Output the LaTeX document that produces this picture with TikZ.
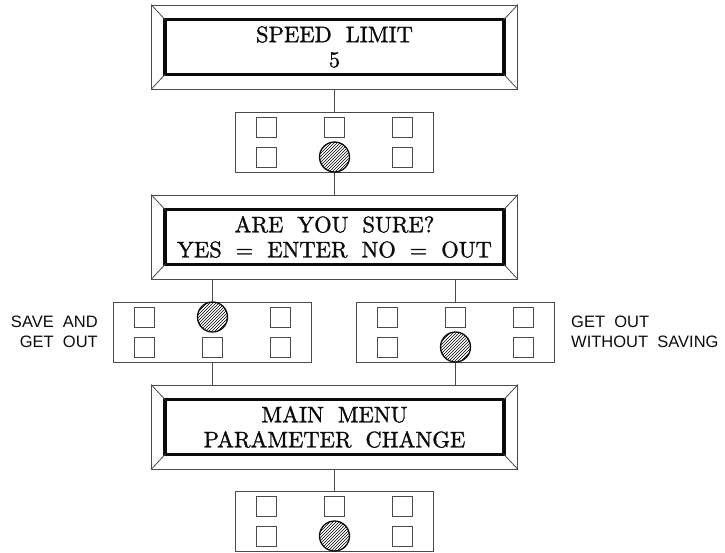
\documentclass[tikz,border=0pt]{standalone}
\usepackage{fontspec}
\usepackage{tikz}
\usetikzlibrary{calc,positioning,patterns}
\newfontfamily\cadserif{lmroman10-regular.otf}[FakeBold=1.3]
\newfontfamily\cadsans{Liberation Sans}
\newcommand{\hueco}{\hspace{0.62em}}
\definecolor{trazo}{HTML}{4A4A4A}
\definecolor{tinta}{HTML}{0B0B0B}
\tikzset{
  pantalla/.style={draw=trazo,line width=0.9pt,minimum width=366pt,minimum height=84pt,inner sep=0pt,align=center,font=\cadserif\fontsize{22.5}{25}\selectfont,text=tinta},
  interior/.style={draw=tinta,line width=3.6pt},
  bisel/.style={draw=trazo,line width=0.8pt},
  teclado/.style={draw=trazo,line width=1pt,minimum width=198pt,minimum height=60pt,inner sep=0pt},
  tecla/.style={draw=trazo,line width=0.9pt,minimum size=20pt,inner sep=0pt},
  pulsada/.style={circle,draw=tinta,line width=1.3pt,pattern=north east lines,minimum size=30pt,inner sep=0pt},
  linea/.style={draw=trazo,line width=0.9pt},
  nota/.style={font=\cadsans\fontsize{16.5}{20}\selectfont,text=tinta,inner sep=0pt},
}
\begin{document}
\begin{tikzpicture}[x=1pt,y=-1pt]
\useasboundingbox (0,0) rectangle (725,552);
% pantallas
\node[pantalla] (d1) at (334.5,47) {SPEED\hueco LIMIT\\5};
\node[pantalla] (d2) at (334.5,237) {ARE\hueco YOU\hueco SURE?\\YES\hueco =\hueco ENTER\hueco NO\hueco =\hueco OUT};
\node[pantalla] (d3) at (334.5,427) {MAIN\hueco MENU\\PARAMETER\hueco CHANGE};
\foreach \d in {d1,d2,d3} {
  \draw[interior] ($(\d.north west)+(14,15)$) rectangle ($(\d.south east)+(-14,-15)$);
  \draw[bisel] (\d.north west) -- +(14,15);
  \draw[bisel] (\d.north east) -- +(-14,15);
  \draw[bisel] (\d.south west) -- +(14,-15);
  \draw[bisel] (\d.south east) -- +(-14,-15);
}
% teclados
\foreach \k/\x/\y/\f in {k1/334.5/142/1,k2/212.5/332/-1,k3/455.5/332/1,k4/334.5/521/1} {
  \node[teclado] (\k) at (\x,\y) {};
  \foreach \c in {-1,0,1} {
    \foreach \r in {-1,1} {
      \pgfmathtruncatemacro{\hit}{(\c==0)&&(\r==\f)}
      \ifnum\hit=1
        \node[pulsada] (\k-\c-\r) at (\x+68*\c,\y+15*\r) {};
      \else
        \node[tecla] (\k-\c-\r) at (\x+68*\c,\y+15*\r) {};
      \fi
    }
  }
}
% conexiones
\draw[linea] (d1) -- (k1);
\draw[linea] (k1) -- (d2);
\draw[linea] (k2.north) -- (k2.north |- d2.south);
\draw[linea] (k3.north) -- (k3.north |- d2.south);
\draw[linea] (k2.south) -- (k2.south |- d3.north);
\draw[linea] (k3.south) -- (k3.south |- d3.north);
\draw[linea] (d3) -- (k4);
% notas
\node[nota,align=right,left=15pt of k2] (n1) {SAVE\ \ AND\\GET\ \ OUT};
\node[nota,align=left,right=16pt of k3] (n2) {GET\ \ OUT\\WITHOUT\ \ SAVING};
\end{tikzpicture}
\end{document}
